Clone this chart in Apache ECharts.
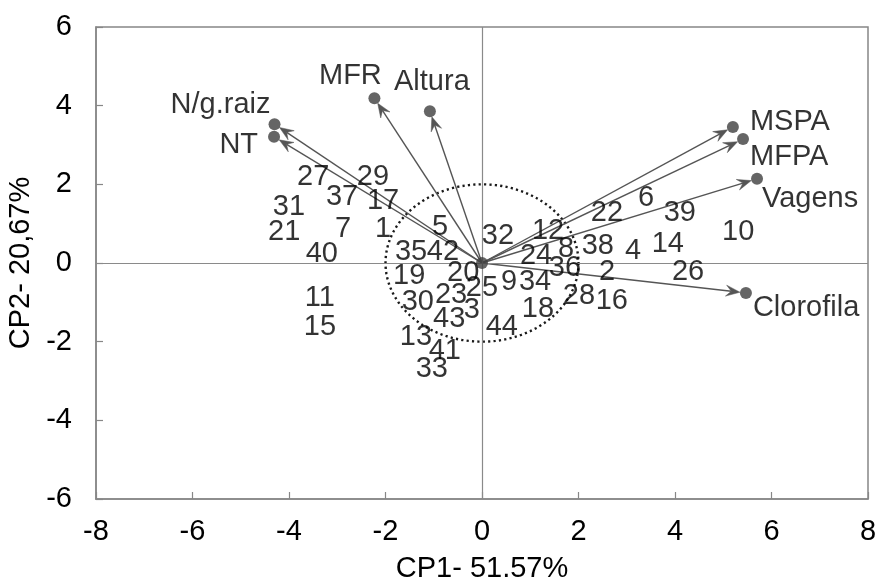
<!DOCTYPE html>
<html>
<head>
<meta charset="utf-8">
<script src="https://cdn.jsdelivr.net/npm/echarts@6/dist/echarts.min.js"></script>
<style>
html,body{margin:0;padding:0;background:#fff;}
#chart{width:879px;height:577px;}
</style>
</head>
<body>
<div id="chart"></div>
<script>
// ---- Data ----
const obsNames = ['1','2','3','4','5','6','7','8','9','10','11','12','13','14','15','16','17','18','19','20','21','22','23','24','25','26','27','28','29','30','31','32','33','34','35','36','37','38','39','40','41','42','43','44'];
const obsX = [-2.05, 2.59,-0.21, 3.13,-0.87, 3.40,-2.88, 1.74, 0.56, 5.31,-3.36, 1.37,-1.37, 3.85,-3.36, 2.69,-2.05, 1.16,-1.51,-0.39,-4.10, 2.59,-0.64, 1.12, 0.00, 4.27,-3.50, 2.01,-2.26,-1.33,-4.00, 0.33,-1.04, 1.10,-1.47, 1.72,-2.90, 2.40, 4.10,-3.32,-0.77,-0.81,-0.68, 0.41];
const obsY = [ 0.86,-0.23,-1.20, 0.31, 0.92, 1.65, 0.86, 0.36,-0.48, 0.79,-0.89, 0.81,-1.88, 0.48,-1.63,-0.97, 1.58,-1.17,-0.33,-0.25, 0.79, 1.27,-0.81, 0.18,-0.64,-0.23, 2.19,-0.84, 2.19,-0.99, 1.42, 0.69,-2.70,-0.48, 0.28,-0.13, 1.68, 0.43, 1.27, 0.23,-2.24, 0.28,-1.42,-1.63];

const varNames = ['N/g.raiz','NT','MFR','Altura','MSPA','MFPA','Vagens','Clorofila'];
const varX = [-4.30,-4.31,-2.23,-1.08, 5.20, 5.41, 5.70, 5.47];
const varY = [ 3.53, 3.21, 4.19, 3.86, 3.46, 3.15, 2.14,-0.76];

const circleRadius = [2];
const xName = 'CP1- 51,57%';
const yName = 'CP2- 20,67%';

// ---- Styles (label placement for variable names) ----
const varLabelPlace = {
  'N/g.raiz': {align:'right', offset:[-4,-19]},
  'NT':       {align:'right', offset:[-16,8]},
  'MFR':      {align:'center', offset:[-24,-22]},
  'Altura':   {align:'center', offset:[2,-29]},
  'MSPA':     {align:'left', offset:[17,-5]},
  'MFPA':     {align:'left', offset:[7,18]},
  'Vagens':   {align:'left', offset:[5,20]},
  'Clorofila':{align:'left', offset:[7,15]}
};

const FONT = '"Liberation Sans", Arial, sans-serif';
const FS = 29;
const AXIS_COLOR = '#878787';

const chart = echarts.init(document.getElementById('chart'), null, {renderer:'canvas'});

const obsData = obsNames.map((n,i)=>({name:n, value:[obsX[i], obsY[i]]}));
const varData = varNames.map((n,i)=>{
  const p = varLabelPlace[n];
  return {name:n, value:[varX[i], varY[i]], label:{align:p.align, offset:p.offset}};
});

const option = {
  animation:false,
  backgroundColor:'#fff',
  grid:{left:96, right:11, top:27, bottom:78, outerBoundsMode:'none', containLabel:false,
        show:true, borderColor:AXIS_COLOR, borderWidth:1.5, backgroundColor:'transparent'},
  xAxis:{
    type:'value', min:-8, max:8, interval:2,
    axisLine:{show:true, onZero:false, lineStyle:{color:AXIS_COLOR, width:1.5}},
    axisTick:{show:true, inside:true, length:7, lineStyle:{color:AXIS_COLOR, width:1.2}},
    splitLine:{show:false},
    axisLabel:{color:'#000', fontSize:FS, fontFamily:FONT, margin:18},
    name:xName, nameLocation:'middle', nameGap:55,
    nameTextStyle:{color:'#000', fontSize:FS, fontFamily:FONT}
  },
  yAxis:{
    type:'value', min:-6, max:6, interval:2,
    axisLine:{show:true, onZero:false, lineStyle:{color:AXIS_COLOR, width:1.5}},
    axisTick:{show:true, inside:true, length:7, lineStyle:{color:AXIS_COLOR, width:1.2}},
    splitLine:{show:false},
    axisLabel:{color:'#000', fontSize:FS, fontFamily:FONT, margin:24},
    name:yName, nameLocation:'middle', nameGap:58,
    nameTextStyle:{color:'#000', fontSize:FS, fontFamily:FONT}
  },
  series:[
    {
      type:'line', data:[], silent:true,
      markLine:{
        silent:true, symbol:'none', animation:false,
        label:{show:false},
        lineStyle:{color:'#8a8a8a', width:1.2, type:'solid'},
        data:[{xAxis:0},{yAxis:0}]
      }
    },
    {
      type:'custom', silent:true, clip:false, z:3,
      data:[[0,0,circleRadius[0]]],
      renderItem:function(params, api){
        const c = api.coord([api.value(0), api.value(1)]);
        const r = api.value(2);
        const ex = api.coord([r,0]);
        const ey = api.coord([0,r]);
        const rx = Math.abs(ex[0]-c[0]);
        const ry = Math.abs(ey[1]-c[1]);
        const pts = [];
        for (let k=0;k<=180;k++){
          const t = k/180*Math.PI*2;
          pts.push([c[0]+rx*Math.cos(t), c[1]+ry*Math.sin(t)]);
        }
        return {type:'polyline', shape:{points:pts},
          style:{stroke:'#1a1a1a', lineWidth:2.4, lineDash:[2.2,3.2], fill:null, lineCap:'butt'}};
      }
    },
    {
      type:'custom', silent:true, clip:false, z:4,
      data:varNames.map((n,i)=>[varX[i], varY[i]]),
      renderItem:function(params, api){
        const p0 = api.coord([0,0]);
        const p1 = api.coord([api.value(0), api.value(1)]);
        const dx = p1[0]-p0[0], dy = p1[1]-p0[1];
        const len = Math.sqrt(dx*dx+dy*dy);
        const ux = dx/len, uy = dy/len;
        const px = -uy, py = ux;
        const R = 6, L = 14, W = 5.5;
        const tip = [p1[0]-ux*R, p1[1]-uy*R];
        const back = [tip[0]-ux*L, tip[1]-uy*L];
        const notch = [tip[0]-ux*L*0.62, tip[1]-uy*L*0.62];
        return {type:'group', children:[
          {type:'line', shape:{x1:p0[0], y1:p0[1], x2:notch[0], y2:notch[1]},
           style:{stroke:'#555', lineWidth:1.4}},
          {type:'polygon', shape:{points:[tip,[back[0]+px*W, back[1]+py*W], notch, [back[0]-px*W, back[1]-py*W]]},
           style:{fill:'#555', stroke:'#555', lineWidth:0.5}}
        ]};
      }
    },
    {
      type:'scatter', silent:true, z:5,
      data:[[0,0]], symbol:'circle', symbolSize:12,
      itemStyle:{color:'#3f3f3f'}
    },
    {
      type:'scatter', silent:true, z:6,
      data:varData, symbol:'circle', symbolSize:12,
      itemStyle:{color:'#3f3f3f'},
      label:{show:true, position:'inside', formatter:'{b}', color:'#000', fontSize:FS, fontFamily:FONT, verticalAlign:'middle'}
    },
    {
      type:'scatter', silent:true, z:7,
      data:obsData, symbol:'circle', symbolSize:1,
      itemStyle:{color:'rgba(0,0,0,0)'},
      label:{show:true, position:'inside', formatter:'{b}', color:'#000', fontSize:FS, fontFamily:FONT, align:'center', verticalAlign:'middle'}
    }
  ]
};
chart.setOption(option);
</script>
</body>
</html>
